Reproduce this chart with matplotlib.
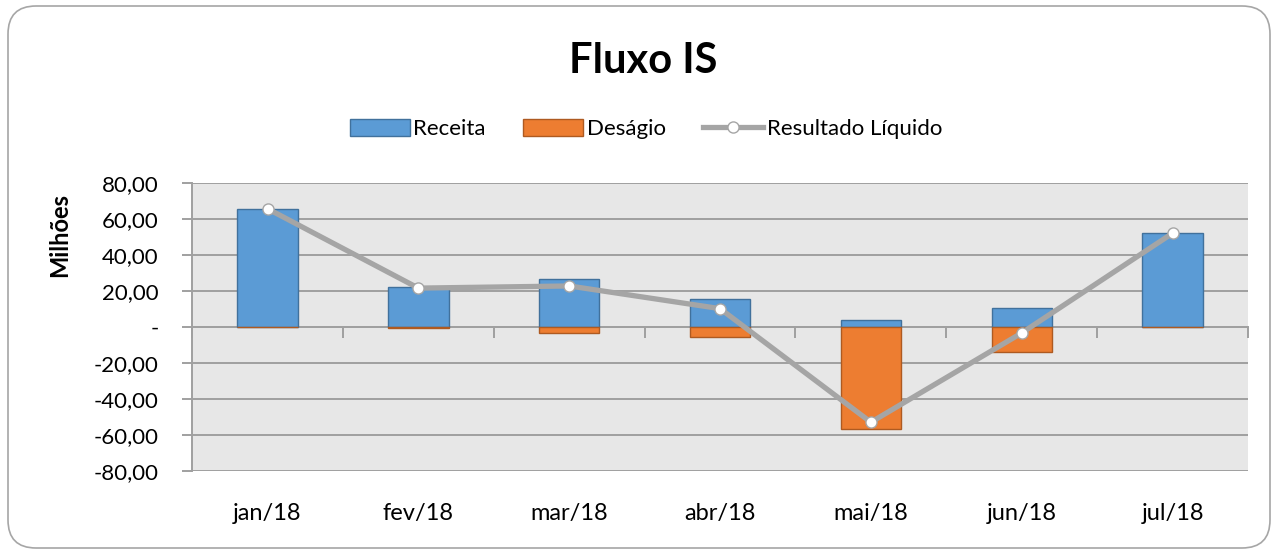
import matplotlib.pyplot as plt
import matplotlib.patches as mpatches
import numpy as np

# valores em milhoes
meses = ['jan/18', 'fev/18', 'mar/18', 'abr/18', 'mai/18', 'jun/18', 'jul/18']
receita = [65.7, 22.2, 26.4, 15.7, 4.0, 10.7, 52.1]
desagio = [0.0, -0.6, -3.6, -5.5, -56.9, -14.0, 0.0]
resultado = [65.7, 21.6, 22.8, 10.2, -52.9, -3.3, 52.1]

plt.rcParams['font.family'] = ['Lato', 'DejaVu Sans']

def fmt(v):
    if v == 0:
        return '-'
    return ('%.2f' % v).replace('.', ',')

fig = plt.figure(figsize=(12.74, 5.54), dpi=100)
ax = fig.add_axes([0.1508, 0.1498, 0.8288, 0.5199])

# borda arredondada
borda = mpatches.FancyBboxPatch((8/1274, 6/554), 1262/1274, 542/554,
                                boxstyle='round,pad=0,rounding_size=0.022',
                                mutation_aspect=2.3, transform=fig.transFigure,
                                facecolor='white', edgecolor='#a6a6a6', lw=1.2,
                                zorder=-10)
fig.patches.append(borda)

x = np.arange(len(meses))
ax.set_facecolor('#e7e7e7')
ax.set_axisbelow(True)
ax.grid(axis='y', color='#a0a0a0', lw=1.4)

b1 = ax.bar(x, receita, 0.4, color='#5b9bd5', edgecolor='#41719c', lw=1, label='Receita', zorder=2)
b2 = ax.bar(x, desagio, 0.4, color='#ed7d31', edgecolor='#ae5a21', lw=1, label='Deságio', zorder=2)
l1, = ax.plot(x, resultado, color='#a5a5a5', lw=3.8, marker='o', ms=8,
              mfc='white', mec='#a5a5a5', mew=1, label='Resultado Líquido', zorder=3)

ax.set_xlim(-0.5, len(meses) - 0.5)
ax.set_ylim(-80, 80)
yt = np.arange(-80, 81, 20)
ax.set_yticks(yt, [fmt(v) for v in yt])
ax.tick_params(axis='y', length=7, color='#a0a0a0', width=1.4, labelsize=16, pad=17)
ax.set_xticks(x, meses)
ax.tick_params(axis='x', length=0, labelsize=17, pad=23)

for s in ['top', 'right', 'bottom']:
    ax.spines[s].set_visible(False)
ax.spines['left'].set_color('#a0a0a0')
ax.spines['left'].set_linewidth(1.4)

# eixo no zero com marcas entre categorias
eixo = ax.secondary_xaxis(0, transform=ax.transData)
eixo.set_xticks(np.arange(len(meses) + 1) - 0.5, [''] * (len(meses) + 1))
eixo.tick_params(length=8, color='#a0a0a0', width=1.4)
eixo.spines['bottom'].set_color('#a0a0a0')
eixo.spines['bottom'].set_linewidth(1.4)

# rotulo de unidade no topo do eixo, como no Excel
ax.set_ylabel('Milhões', fontsize=17, fontweight='bold')
ax.yaxis.set_label_coords(-0.115, 0.82)

fig.text(0.505, 0.89, 'Fluxo IS', ha='center', va='center', fontsize=30, fontweight='bold')
fig.legend(handles=[b1, b2, l1], loc='center', bbox_to_anchor=(0.507, 0.767), ncol=3,
           frameon=False, fontsize=16, handlelength=2.7, handleheight=0.8,
           handletextpad=0.15, columnspacing=1.7)

plt.savefig('out.png', dpi=100)
